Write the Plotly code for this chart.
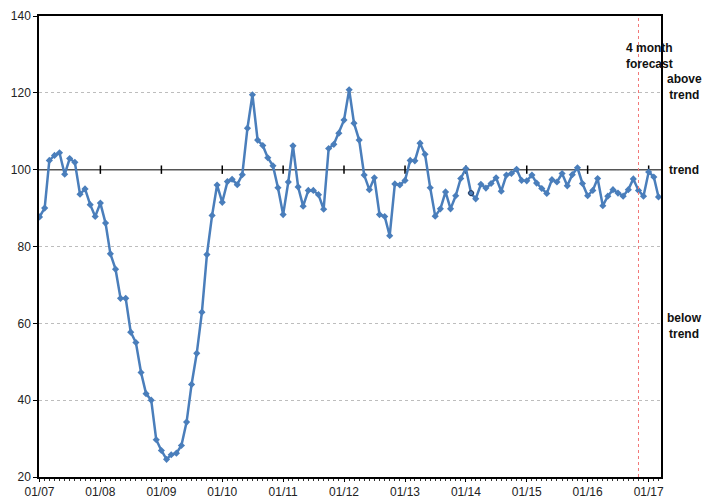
import pandas as pd
import plotly.graph_objects as go

# Monthly index values, Jan 2007 .. Mar 2017
values = [
    87.7, 90.0, 102.4, 103.7, 104.4, 98.8, 102.9, 101.9, 93.6, 95.0, 90.9, 87.8,   # 2007
    91.3, 86.1, 78.1, 74.1, 66.5, 66.5, 57.7, 55.0, 47.2, 41.7, 40.0, 29.7,        # 2008
    26.9, 24.6, 25.8, 26.2, 28.2, 34.3, 44.1, 52.2, 62.9, 77.9, 88.1, 96.0,        # 2009
    91.5, 96.9, 97.5, 96.1, 98.7, 110.8, 119.5, 107.7, 106.3, 103.1, 101.0, 95.3,  # 2010
    88.3, 96.8, 106.2, 95.5, 90.5, 94.6, 94.6, 93.5, 89.7, 105.5, 106.6, 109.5,    # 2011
    112.9, 120.8, 112.1, 107.7, 98.6, 94.8, 97.9, 88.3, 87.8, 82.8, 96.3, 96.0,    # 2012
    97.2, 102.4, 102.3, 106.9, 104.0, 95.3, 87.9, 89.8, 94.2, 89.8, 93.2, 97.7,    # 2013
    100.3, 93.9, 92.4, 96.2, 95.2, 96.4, 97.9, 94.4, 98.6, 99.0, 100.1, 97.2,      # 2014
    97.1, 98.6, 96.5, 95.1, 93.8, 97.4, 96.8, 99.0, 95.8, 98.7, 100.5, 96.4,       # 2015
    93.2, 94.6, 97.7, 90.6, 93.1, 94.8, 93.9, 93.1, 94.8, 97.6, 94.6, 93.1,        # 2016
    99.4, 98.1, 92.9,                                                              # 2017
]
dates = pd.date_range("2007-01-01", periods=len(values), freq="MS")

X_RANGE = ["2006-12-29", "2017-03-16"]
TREND = 100
trend_tick_dates = pd.date_range("2008-01-01", "2017-01-01", freq="YS")
highlight_date = "2014-02-01"
highlight_value = 93.9
forecast_start = "2016-11-01"

y_ticks = [20, 40, 60, 80, 100, 120, 140]

LINE_BLUE = "#4a7ebb"

fig = go.Figure()

# trend line (Excel axis crossing at 100), drawn under the data
fig.add_trace(go.Scatter(
    x=X_RANGE, y=[TREND, TREND], mode="lines",
    line=dict(color="#555555", width=1.5),
    showlegend=False, hoverinfo="skip", cliponaxis=True,
))
# Tick marks on the trend line
fig.add_trace(go.Scatter(
    x=trend_tick_dates, y=[TREND] * len(trend_tick_dates), mode="markers",
    marker=dict(symbol="line-ns", size=6, line=dict(color="black", width=1.5)),
    showlegend=False, hoverinfo="skip",
))

fig.add_trace(go.Scatter(
    x=dates, y=values, mode="lines+markers",
    line=dict(color=LINE_BLUE, width=2.5),
    marker=dict(symbol="diamond", size=5.5, color=LINE_BLUE),
    showlegend=False, hoverinfo="x+y",
))

fig.add_trace(go.Scatter(
    x=[highlight_date], y=[highlight_value], mode="markers",
    marker=dict(symbol="circle", size=5, color=LINE_BLUE,
                line=dict(color="#223355", width=1)),
    showlegend=False, hoverinfo="skip",
))

# forecast marker line
fig.add_shape(type="line", xref="x", x0=forecast_start, x1=forecast_start,
              yref="paper", y0=0, y1=1,
              line=dict(color="#f27878", width=1, dash="dot"), layer="above")

lab_font = dict(family="Liberation Sans Narrow, Arial Narrow, Liberation Sans, Arial",
                size=12, color="#111111")
fig.add_annotation(xref="paper", yref="y", x=0.982, y=129.7,
                   text="<b>4 month<br>forecast</b>", showarrow=False,
                   font=lab_font, xanchor="center", yanchor="middle")
fig.add_annotation(xref="paper", yref="y", x=1.037, y=121.6,
                   text="<b>above<br>trend</b>", showarrow=False,
                   font=lab_font, xanchor="center", yanchor="middle")
fig.add_annotation(xref="paper", yref="y", x=1.037, y=TREND,
                   text="<b>trend</b>", showarrow=False,
                   font=lab_font, xanchor="center", yanchor="middle")
fig.add_annotation(xref="paper", yref="y", x=1.037, y=59.3,
                   text="<b>below<br>trend</b>", showarrow=False,
                   font=lab_font, xanchor="center", yanchor="middle")

fig.update_layout(
    width=705, height=498,
    margin=dict(l=39, r=44, t=16, b=21),
    paper_bgcolor="white", plot_bgcolor="white",
    font=dict(family="Liberation Sans, Arial", size=12, color="#222222"),
    showlegend=False,
)

fig.update_xaxes(
    type="date",
    range=X_RANGE,
    tick0="2007-01-01", dtick="M12", tickformat="%m/%y",
    ticks="outside", ticklen=3, tickcolor="black",
    minor=dict(dtick="M1", ticks="outside", ticklen=2, tickcolor="#333333"),
    showgrid=False, zeroline=False, automargin=False,
    showline=True, linecolor="black", linewidth=1.5, mirror=True,
    tickfont=dict(size=12, color="#222222"),
)
fig.update_yaxes(
    range=[20, 140], tickvals=y_ticks,
    ticks="outside", ticklen=4, tickcolor="black",
    showgrid=True, gridcolor="#bdbdbd", griddash="3px,3px", gridwidth=1,
    zeroline=False, automargin=False,
    showline=True, linecolor="black", linewidth=1.5, mirror=True,
    tickfont=dict(size=12, color="#222222"),
)

fig.write_html(
    "out.html",
    config={"displayModeBar": False},
    post_script="document.body.style.margin='0';document.body.style.overflow='hidden';",
)
